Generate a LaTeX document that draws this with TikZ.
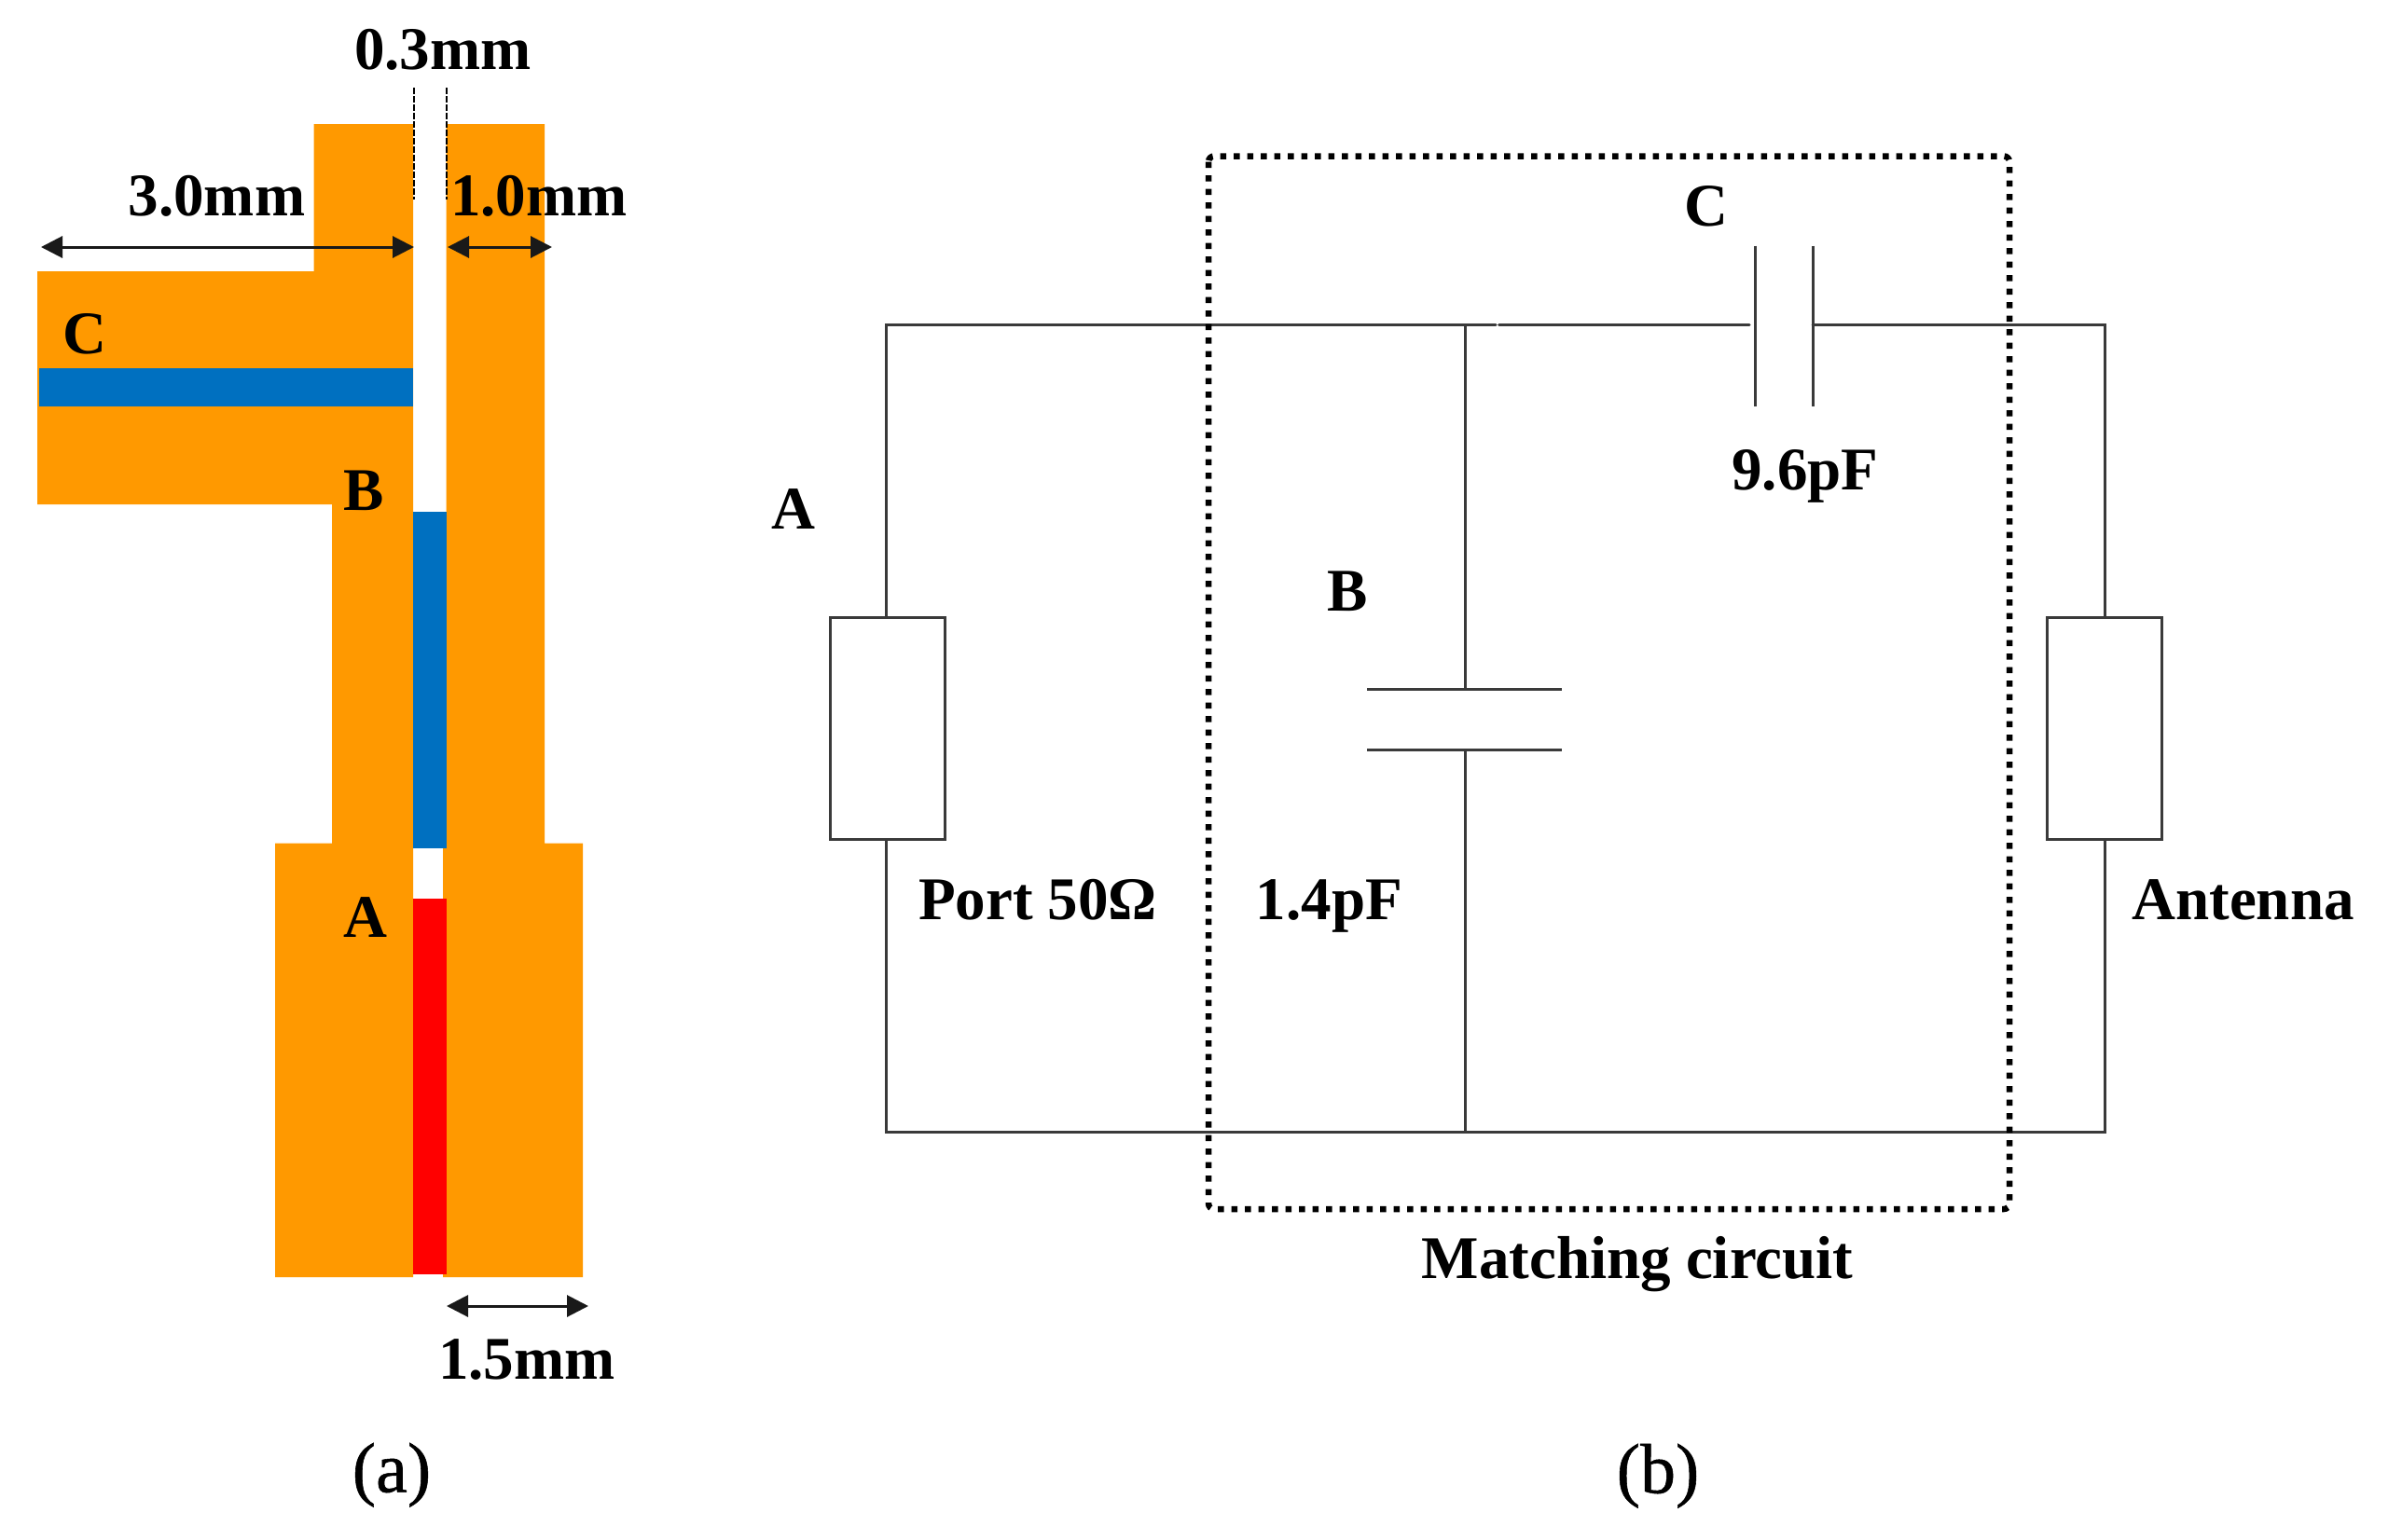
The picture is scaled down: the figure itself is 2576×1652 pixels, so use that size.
\documentclass[tikz,border=0pt]{standalone}
\usepackage{fontspec}
\setmainfont{Liberation Serif}
\newfontfamily\subfont[FakeBold=0.7]{Liberation Serif}
\usetikzlibrary{arrows.meta}
\definecolor{cond}{HTML}{FF9900}
\definecolor{bluecut}{HTML}{0070C0}
\definecolor{redcut}{HTML}{FF0000}
\definecolor{wirecol}{HTML}{3A3A3A}
\tikzset{
  lbl/.style={anchor=base,inner sep=0pt,outer sep=0pt,font=\fontsize{65}{70}\selectfont\bfseries,text=black},
  sublbl/.style={anchor=base,inner sep=0pt,outer sep=0pt,font=\fontsize{76}{80}\selectfont\subfont,text=black},
  wire/.style={draw=wirecol,line width=3pt,line cap=round,line join=miter},
  plate/.style={draw=wirecol,line width=3pt},
  dimline/.style={draw=black!90,line width=3pt,{Triangle[length=23pt,width=23pt]}-{Triangle[length=23pt,width=23pt]},shorten >=0pt,shorten <=0pt},
  guide/.style={draw=black,line width=2pt,dash pattern=on 7pt off 2pt},
  box/.style={draw=wirecol,line width=3pt,fill=white,rectangle,inner sep=0pt,minimum width=123pt,minimum height=238pt},
  matchbox/.style={draw=black,line width=6.5pt,dash pattern=on 6.5pt off 8pt}
}
\begin{document}
\begin{tikzpicture}[x=1pt,y=-1pt]
\useasboundingbox (0,0) rectangle (2576,1652);
% --- (a) layout
\fill[cond] (336.5,133) -- (443,133) -- (443,1370) -- (295,1370) -- (295,904.5) -- (356,904.5) -- (356,541) -- (40,541) -- (40,291) -- (336.5,291) -- cycle;
\fill[cond] (478.5,133) -- (584,133) -- (584,904.5) -- (625,904.5) -- (625,1370) -- (475,1370) -- (475,909.5) -- (478.5,909.5) -- cycle;
\fill[bluecut] (42,394.6) rectangle (443,435.5);
\fill[bluecut] (443,549) rectangle (478.5,909.5);
\fill[redcut] (443,964) rectangle (478.5,1367);
% guides and dimensions
\coordinate (g1a) at (443.5,94); \coordinate (g1b) at (443.5,214);
\coordinate (g2a) at (478.5,94); \coordinate (g2b) at (478.5,214);
\draw[guide] (g1a) -- (g1b);
\draw[guide] (g2a) -- (g2b);
\coordinate (d1a) at (44,265); \coordinate (d1b) at (444,265);
\coordinate (d2a) at (480,265); \coordinate (d2b) at (592,265);
\coordinate (d3a) at (479,1401); \coordinate (d3b) at (631,1401);
\draw[dimline] (d1a) -- (d1b);
\draw[dimline] (d2a) -- (d2b);
\draw[dimline] (d3a) -- (d3b);
\node[lbl] (t03) at (475,74) {0.3mm};
\node[lbl] (t30) at (232.5,231.5) {3.0mm};
\node[lbl] (t10) at (578,231.5) {1.0mm};
\node[lbl] (t15) at (565,1479.5) {1.5mm};
\node[lbl] (lc) at (91,379.5) {C};
\node[lbl] (lb) at (390.5,547.5) {B};
\node[lbl] (la) at (392,1005.5) {A};
\node[sublbl] (capa) at (420,1600.5) {(a)};
% --- (b) circuit
\node[box] (port) at (952,781.5) {};
\node[box] (ant) at (2257,781.5) {};
\coordinate (tl) at (950,348.5);
\coordinate (bl) at (950,1214.2);
\coordinate (tr) at (2257,348.5);
\coordinate (br) at (2257,1214.2);
\coordinate (junc) at (1571,348.5);
\coordinate (jb) at (1571,1214.2);
\coordinate (nick1) at (1604,348.5);
\coordinate (nick2) at (1607.5,348.5);
\coordinate (cl) at (1876,348.5);
\coordinate (cr) at (1944,348.5);
\coordinate (c1t) at (1882,263.5); \coordinate (c1b) at (1882,435.6);
\coordinate (c2t) at (1944,263.5); \coordinate (c2b) at (1944,435.6);
\coordinate (b1l) at (1466,739); \coordinate (b1r) at (1675,739);
\coordinate (b2l) at (1466,804.5); \coordinate (b2r) at (1675,804.5);
\coordinate (b1m) at (1571,739); \coordinate (b2m) at (1571,804.5);
\draw[wire] (port.north -| tl) -- (tl) -- (nick1);
\draw[wire] (nick2) -- (cl);
\draw[wire] (cr) -- (tr) -- (ant.north);
\draw[wire] (port.south -| bl) -- (bl) -- (br) -- (ant.south);
\draw[wire] (junc) -- (b1m);
\draw[wire] (b2m) -- (jb);
\draw[plate] (c1t) -- (c1b);
\draw[plate] (c2t) -- (c2b);
\draw[plate] (b1l) -- (b1r);
\draw[plate] (b2l) -- (b2r);
\draw[matchbox,rounded corners=6pt] (1296,167.5) rectangle (2155,1297);
\node[lbl] (tA) at (851,567.5) {A};
\node[lbl] (tB) at (1445,655) {B};
\node[lbl] (tC) at (1830,242) {C};
\node[lbl] (t96) at (1936,525) {9.6pF};
\node[lbl] (t14) at (1425.5,986) {1.4pF};
\node[lbl] (tport) at (1113,986) {Port 50Ω};
\node[lbl] (tant) at (2405.5,986.5) {Antenna};
\node[lbl] (tmatch) at (1756,1371.5) {Matching circuit};
\node[sublbl] (capb) at (1778,1601.5) {(b)};
\end{tikzpicture}
\end{document}
